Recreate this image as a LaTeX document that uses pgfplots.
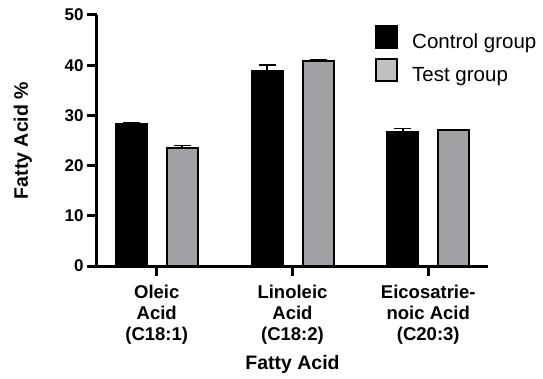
\documentclass[border=0pt]{standalone}
\usepackage{pgfplots}
\pgfplotsset{compat=1.18}
\usepackage{fontspec}
\setmainfont{Liberation Sans}
\definecolor{testgray}{HTML}{A2A2A6}
\definecolor{leggray}{HTML}{C0C0C0}
\begin{document}
\begin{tikzpicture}
\useasboundingbox (0,0) rectangle (543pt,378pt);
\begin{axis}[
  at={(97pt,112pt)}, anchor=south west,
  scale only axis, width=391pt, height=251pt,
  xmin=-0.44, xmax=2.44, ymin=0, ymax=50,
  ybar, bar width=31pt,
  axis x line*=bottom, axis y line*=left,
  axis line style={line width=3pt, -},
  ytick={0,10,20,30,40,50}, xtick={0,1,2},
  xticklabels={{Oleic\\Acid\\(C18:1)},{Linoleic\\Acid\\(C18:2)},{Eicosatrie-\\noic Acid\\(C20:3)}},
  tick align=outside, major tick length=10pt,
  tick style={line width=3pt, black},
  /pgf/number format/assume math mode=true,
  yticklabel style={font=\fontsize{17}{17}\selectfont\bfseries},
  xticklabel style={font=\fontsize{18.5}{21}\selectfont\bfseries, align=center, yshift=-5.5pt},
  xlabel={Fatty Acid}, ylabel={Fatty Acid \%},
  label style={font=\fontsize{19.5}{20}\selectfont\bfseries},
  xlabel style={at={(axis description cs:0.5,-0.414)}, anchor=base, inner sep=0pt},
  ylabel style={at={(axis description cs:-0.166,0.5)}, anchor=south, inner sep=0pt},
  legend style={at={(axis description cs:0.711,0.962)}, anchor=north west, draw=none, fill=none,
    inner sep=0pt, row sep=8pt, column sep=14pt,
    font=\fontsize{20.5}{20.5}\selectfont,
    nodes={inner sep=0pt, anchor=base west}},
  legend cell align=left,
]
\addlegendimage{legend image code/.code={\draw[fill=black,draw=black,line width=2pt] (1pt,0.5pt) rectangle (22pt,22.5pt);}}
\addlegendentry{Control group}
\addlegendimage{legend image code/.code={\draw[fill=leggray,draw=black,line width=2pt] (1pt,0.5pt) rectangle (22pt,22.5pt);}}
\addlegendentry{Test group}
\addplot[forget plot, bar shift=-25.5pt, fill=black, draw=black, line width=2pt,
  error bars/.cd, y dir=plus, y explicit,
  error bar style={line width=1.5pt, black},
  error mark options={rotate=90, line width=1.5pt, mark size=8.5pt, black}]
  coordinates {(0,28.3) +- (0,0.3) (1,38.8) +- (0,1.2) (2,26.6) +- (0,0.8)};
\addplot[forget plot, bar shift=25.5pt, fill=testgray, draw=black, line width=2pt,
  error bars/.cd, y dir=plus, y explicit,
  error bar style={line width=1.5pt, black},
  error mark options={rotate=90, line width=1.5pt, mark size=8.5pt, black}]
  coordinates {(0,23.6) +- (0,0.4) (1,40.8) +- (0,0.25) (2,27.1) +- (0,0.1)};
\end{axis}
\end{tikzpicture}
\end{document}
